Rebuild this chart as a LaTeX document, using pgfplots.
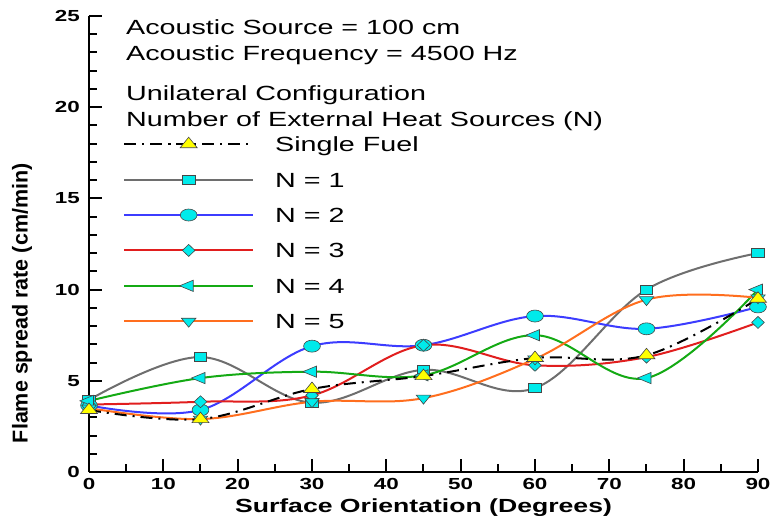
\documentclass[border=0pt]{standalone}
\usepackage{pgfplots}
\pgfplotsset{compat=1.18}
\usepackage{fontspec}
\setmainfont{Liberation Sans}[FakeStretch=1.4]
\newfontfamily\ylabfont{Liberation Sans}
\definecolor{mkcyan}{RGB}{0,235,235}
\definecolor{mkyellow}{RGB}{255,255,0}
\definecolor{mkedge}{RGB}{70,70,70}
\definecolor{lgray}{RGB}{110,110,110}
\definecolor{lblue}{RGB}{60,60,255}
\definecolor{lred}{RGB}{225,30,30}
\definecolor{lgreen}{RGB}{20,170,20}
\definecolor{lorange}{RGB}{255,110,30}
\tikzset{mk/.style={solid, fill=mkcyan, draw=mkedge, line width=0.6bp, xscale=1.4}}
\pgfplotsset{
  sfstyle/.style={black, line width=2bp, smooth, tension=0.6,
     dash pattern=on 12bp off 6bp on 2bp off 6bp,
     mark=triangle*, mark size=7bp, mark options={mk, fill=mkyellow}},
}
\begin{document}
\begin{tikzpicture}
\useasboundingbox (-89bp,-50bp) rectangle (683bp,472bp);
\begin{axis}[
  at={(0,0)}, anchor=south west,
  scale only axis, width=669bp, height=456bp,
  xmin=0, xmax=90, ymin=0, ymax=25,
  clip=false,
  axis x line*=bottom, axis y line*=left,
  axis line style={line width=2.5bp, -},
  xtick={0,10,...,90}, ytick={0,5,...,25},
  minor x tick num=1, minor y tick num=4,
  tick align=inside,
  major tick length=13bp, minor tick length=8bp,
  tick style={black, line width=2bp},
  /pgf/number format/assume math mode=true,
  tick label style={font=\fontsize{16bp}{19bp}\selectfont\bfseries},
  yticklabel style={inner sep=0pt, xshift=-9bp},
  xticklabel style={inner sep=0pt, yshift=-6bp},
  xlabel={Surface Orientation (Degrees)},
  ylabel={Flame spread rate (cm/min)},
  x label style={at={(axis description cs:0.5,-0.079)}, anchor=center, inner sep=0pt,
     font=\fontsize{19bp}{22bp}\selectfont\bfseries},
  y label style={at={(axis description cs:-0.1,0.37)}, anchor=center, inner sep=0pt,
     font=\ylabfont\fontsize{21.5bp}{25bp}\selectfont\bfseries},
  legend cell align=left,
  legend image code/.code={\draw[mark repeat=2,mark phase=2,#1] plot coordinates {(0bp,0bp) (64.5bp,0bp) (129bp,0bp)};},
  legend style={draw=none, fill=none, inner sep=0pt, column sep=21bp, row sep=20.4bp,
     at={(rel axis cs:0.0508,0.7357)}, anchor=north west,
     font=\fontsize{20.5bp}{24bp}\selectfont,
     nodes={inner sep=0pt, text height=15bp, text depth=0bp}},
]
\addlegendimage{sfstyle}
\addlegendentry{Single Fuel}

\addplot[lgray, line width=2bp, smooth, tension=0.6, mark=square*, mark size=4.5bp, mark options={mk}]
  coordinates {(0,3.95) (15,6.3) (30,3.8) (45,5.6) (60,4.6) (75,10.0) (90,12.0)};
\addlegendentry{N = 1}

\addplot[lblue, line width=2bp, smooth, tension=0.6, mark=*, mark size=6bp, mark options={mk}]
  coordinates {(0,3.65) (15,3.4) (30,6.9) (45,6.95) (60,8.55) (75,7.85) (90,9.05)};
\addlegendentry{N = 2}

\addplot[lred, line width=2bp, smooth, tension=0.6, mark=diamond*, mark size=6bp, mark options={mk}]
  coordinates {(0,3.7) (15,3.85) (30,4.2) (45,6.95) (60,5.85) (75,6.3) (90,8.2)};
\addlegendentry{N = 3}

\addplot[lgreen, line width=2bp, smooth, tension=0.6, mark=triangle*, mark size=6.5bp, mark options={mk, rotate=90}]
  coordinates {(0,3.9) (15,5.15) (30,5.5) (45,5.3) (60,7.5) (75,5.15) (90,10.0)};
\addlegendentry{N = 4}

\addplot[lorange, line width=2bp, smooth, tension=0.6, mark=triangle*, mark size=6bp, mark options={mk, rotate=180}]
  coordinates {(0,3.5) (15,2.9) (30,3.85) (45,4.05) (60,6.2) (75,9.45) (90,9.55)};
\addlegendentry{N = 5}

\addplot[sfstyle, forget plot]
  coordinates {(0,3.4) (15,2.9) (30,4.55) (45,5.26) (60,6.25) (75,6.4) (90,9.5)};

\node[anchor=base west, inner sep=0pt, font=\fontsize{20.5bp}{24bp}\selectfont] at (rel axis cs:0.0553,0.9605) {Acoustic Source = 100 cm};
\node[anchor=base west, inner sep=0pt, font=\fontsize{20.5bp}{24bp}\selectfont] at (rel axis cs:0.0553,0.9035) {Acoustic Frequency = 4500 Hz};
\node[anchor=base west, inner sep=0pt, font=\fontsize{20.5bp}{24bp}\selectfont] at (rel axis cs:0.0553,0.8136) {Unilateral Configuration};
\node[anchor=base west, inner sep=0pt, font=\fontsize{20.5bp}{24bp}\selectfont] at (rel axis cs:0.0553,0.7566) {Number of External Heat Sources (N)};
\end{axis}
\end{tikzpicture}
\end{document}
